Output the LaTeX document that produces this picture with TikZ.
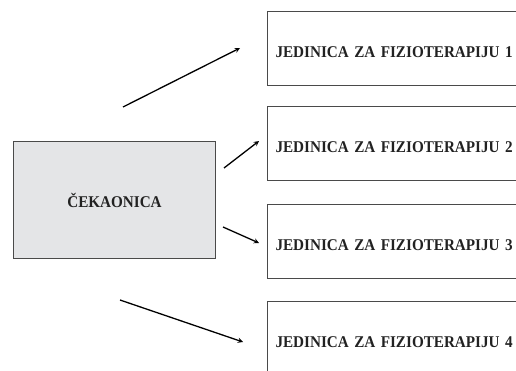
\documentclass[tikz,border=0pt]{standalone}
\usepackage{fontspec}
\setmainfont{Liberation Serif}[FakeStretch=0.925]
\usepackage{tikz}
\usetikzlibrary{positioning}

\definecolor{boxgray}{HTML}{E4E5E7}
\definecolor{framegray}{HTML}{4A4A4A}
\definecolor{inkgray}{HTML}{222222}

\tikzset{
  roombox/.style={draw=framegray, line width=1pt, text=inkgray,
    font=\fontsize{16.4}{19}\selectfont\bfseries},
  unitbox/.style={roombox, anchor=north west, minimum width=300pt,
    minimum height=74pt, text width=284pt, align=left, inner xsep=8pt,
    text height=17pt, text depth=0pt},
  flow/.style={line width=1.3pt, -stealth}
}

\begin{document}
\begin{tikzpicture}[x=1pt, y=-1pt]
  % Frame of the picture
  \useasboundingbox (0,0) rectangle (516,370);
  \clip (0,0) rectangle (516,370);

  % Waiting room
  \node[roombox, fill=boxgray, anchor=north west, minimum width=202pt,
    minimum height=117pt] (wait) at (13,141) {ČEKAONICA};

  % Physiotherapy units
  \foreach \i/\y in {1/11, 2/106, 3/204, 4/301} {
    \node[unitbox] (unit\i) at (267,\y) {JEDINICA ZA FIZIOTERAPIJU \i};
  }

  % Free ends of the arrows
  \coordinate (s1) at (123,107);
  \coordinate (e1) at (240,48);
  \coordinate (s2) at (224,168);
  \coordinate (e2) at (259,141);
  \coordinate (s3) at (223,227);
  \coordinate (e3) at (259,243);
  \coordinate (s4) at (120,300);
  \coordinate (e4) at (243,342);

  % Arrows
  \foreach \i in {1,...,4} {
    \draw[flow] (s\i) -- (e\i);
  }
\end{tikzpicture}
\end{document}
